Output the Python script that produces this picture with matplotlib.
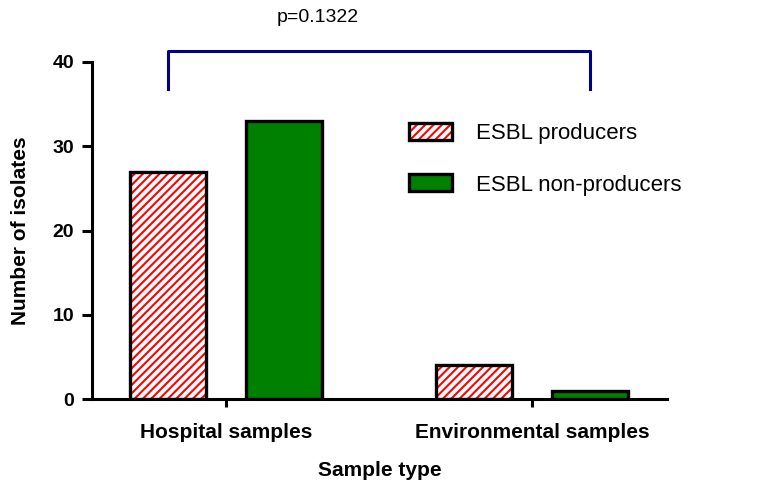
import numpy as np
import matplotlib
matplotlib.use("Agg")
import matplotlib.pyplot as plt

# data
groups = ["Hospital samples", "Environmental samples"]
producers = [27, 4]
non_producers = [33, 1]
p_text = "p=0.1322"

plt.rcParams['font.family'] = ['Liberation Sans', 'DejaVu Sans']
plt.rcParams['hatch.linewidth'] = 1.5

fig = plt.figure(figsize=(7.67, 4.84), dpi=100)
ax = fig.add_axes([92 / 767, 1 - 399 / 484, (667 - 92) / 767, (399 - 62) / 484])

x = np.arange(len(groups))
w = 0.25
off = 0.19
lw = 2.4

# hatched bars: red hatch underneath, black outline on top
h1 = ax.bar(x - off, producers, w, color='white', edgecolor='red', hatch='////', linewidth=0)
h2 = ax.bar(x - off, producers, w, fill=False, edgecolor='black', linewidth=lw)
g = ax.bar(x + off, non_producers, w, color='green', edgecolor='black', linewidth=lw)

ax.set_xlim(-0.438, 1.441)
ax.set_ylim(0, 40)
ax.set_yticks([0, 10, 20, 30, 40])
ax.set_xticks(x)
ax.set_xticklabels(groups, fontsize=15, fontweight='bold')
for t in ax.get_yticklabels():
    t.set_fontsize(14)
    t.set_fontweight('bold')

for s in ['top', 'right']:
    ax.spines[s].set_visible(False)
for s in ['left', 'bottom']:
    ax.spines[s].set_linewidth(2.2)
ax.tick_params(axis='y', length=7, width=2.2, pad=6)
ax.tick_params(axis='x', length=6, width=2.2, pad=11)

ax.set_ylabel("Number of isolates", fontsize=15, fontweight='bold', labelpad=16)
ax.set_xlabel("Sample type", fontsize=15, fontweight='bold', labelpad=14)

# significance bracket
bx = [x[0] - off, x[0] - off, x[1] + off, x[1] + off]
by = [36.8, 41.3, 41.3, 36.8]
ax.plot(bx, by, color='#00008B', linewidth=2.2, clip_on=False)
ax.text(0.30, 45.3, p_text, fontsize=14, ha='center', va='center')

leg = ax.legend([(h1[0], h2[0]), g[0]], ["ESBL producers", "ESBL non-producers"],
                loc='upper left', bbox_to_anchor=(0.535, 0.845), frameon=False,
                fontsize=16, handlelength=1.95, handleheight=0.8,
                handletextpad=1.1, labelspacing=1.35, borderaxespad=0)

fig.savefig("out.png", dpi=100)
